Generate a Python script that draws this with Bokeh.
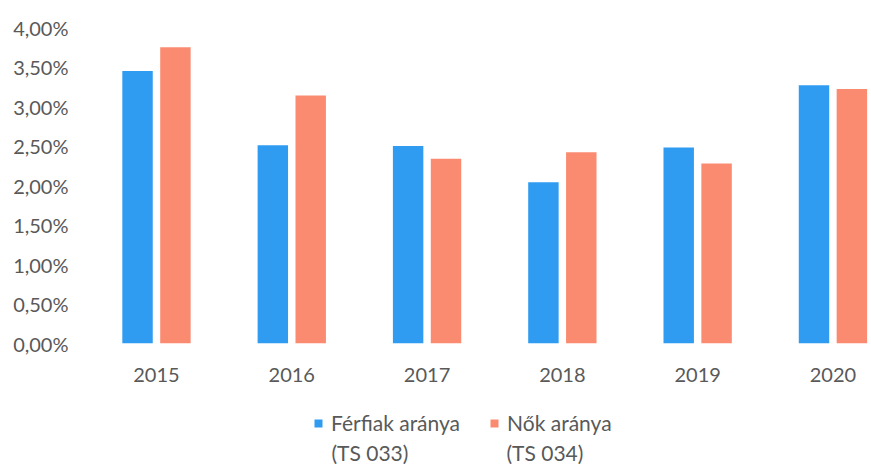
from bokeh.plotting import figure
from bokeh.layouts import column
from bokeh.models import Range1d, FixedTicker, CustomJSTickFormatter, Legend, LegendItem, ColumnDataSource, Label
from bokeh.transform import dodge
from bokeh.embed import file_html
from bokeh.resources import INLINE

years = ["2015", "2016", "2017", "2018", "2019", "2020"]
ferfiak = [3.45, 2.51, 2.50, 2.04, 2.48, 3.27]
nok = [3.75, 3.14, 2.34, 2.42, 2.28, 3.22]
y_ticks = [0, 0.5, 1.0, 1.5, 2.0, 2.5, 3.0, 3.5, 4.0]
series_names = ["Férfiak aránya", "Nők aránya"]
series_codes = ["(TS 033)", "(TS 034)"]

BLUE = "#2f9cf2"
SALMON = "#fb8b70"
GRAY = "#595959"
FONT = "Lato"
FS = "20px"
LFS = "21px"
W = 871
FRAME_LEFT = 84

idx = list(range(len(years)))
src = ColumnDataSource(dict(x=idx, f=ferfiak, n=nok))

p = figure(width=W, height=393, output_backend="svg", toolbar_location=None,
           x_range=Range1d(-0.532, 5.285), y_range=Range1d(0, 4.0),
           min_border_left=FRAME_LEFT, min_border_right=0, min_border_top=27, min_border_bottom=50)
p.outline_line_color = None
p.xgrid.visible = False
p.ygrid.visible = False

r1 = p.vbar(x=dodge("x", -0.14), top="f", width=0.225, source=src, color=BLUE, line_color=None)
r2 = p.vbar(x=dodge("x", 0.14), top="n", width=0.225, source=src, color=SALMON, line_color=None)

p.yaxis.ticker = FixedTicker(ticks=y_ticks)
p.yaxis.formatter = CustomJSTickFormatter(code="return tick.toFixed(2).replace('.', ',') + '%';")
p.yaxis.axis_line_color = None
p.yaxis.major_tick_line_color = None
p.yaxis.minor_tick_line_color = None
p.yaxis.major_label_text_font = FONT
p.yaxis.major_label_text_font_size = FS
p.yaxis.major_label_text_color = GRAY
p.yaxis.major_label_standoff = 10

p.xaxis.ticker = FixedTicker(ticks=idx)
p.xaxis.major_label_overrides = {i: y for i, y in zip(idx, years)}
p.xaxis.axis_line_color = None
p.xaxis.major_tick_line_color = None
p.xaxis.minor_tick_line_color = None
p.xaxis.major_label_text_font = FONT
p.xaxis.major_label_text_font_size = FS
p.xaxis.major_label_text_color = GRAY
p.xaxis.major_label_standoff = 18

# legend strip below the chart (hidden proxy renderers only supply the legend swatches)
H2 = 71
p2 = figure(width=W, height=H2, output_backend="svg", toolbar_location=None,
            x_range=Range1d(-0.532, 5.285), y_range=Range1d(0, 4.0),
            min_border_left=FRAME_LEFT, min_border_right=0, min_border_top=0, min_border_bottom=0)
p2.axis.visible = False
p2.grid.visible = False
p2.outline_line_color = None
l1 = p2.vbar(x="x", top="f", width=0.225, source=src, color=BLUE, line_color=None, visible=False)
l2 = p2.vbar(x="x", top="n", width=0.225, source=src, color=SALMON, line_color=None, visible=False)

legend = Legend(items=[LegendItem(label=series_names[0], renderers=[l1]),
                       LegendItem(label=series_names[1], renderers=[l2])],
                orientation="horizontal", location=(313 - FRAME_LEFT, 29),
                label_text_font=FONT, label_text_font_size=LFS, label_text_color=GRAY,
                glyph_width=10, glyph_height=10, label_standoff=8, label_height=20,
                spacing=29, border_line_color=None, background_fill_alpha=0,
                inactive_fill_alpha=0, padding=0, margin=0)
p2.add_layout(legend, "center")

for name_x, code in zip([331, 506], series_codes):
    p2.add_layout(Label(x=name_x - FRAME_LEFT, y=12, x_units="screen", y_units="screen", text=code,
                        text_font=FONT, text_font_size=LFS, text_color=GRAY,
                        text_baseline="middle", text_align="left"))

open("out.html", "w").write(file_html(column(p, p2, spacing=0), INLINE))
